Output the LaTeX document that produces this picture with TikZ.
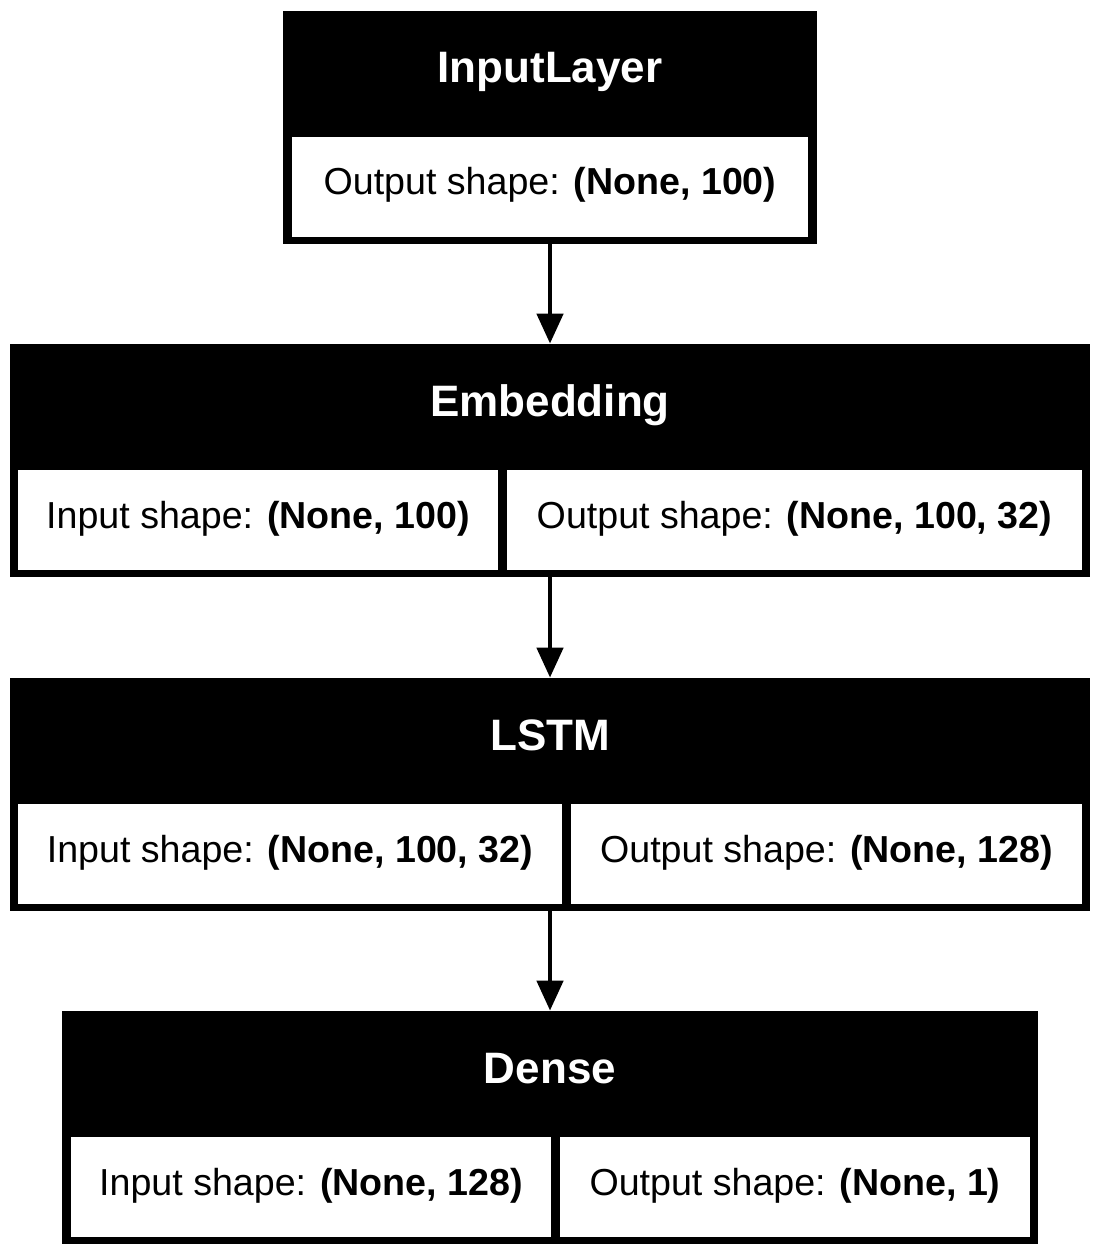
\documentclass[tikz,border=0pt]{standalone}
\usepackage{fontspec}
\setmainfont{Liberation Sans}
\usetikzlibrary{arrows.meta}
\tikzset{
  x=0.5pt, y=-0.5pt,
  layerbox/.style={rectangle, fill=black, inner sep=0pt, minimum height=116.5pt},
  cellbox/.style={rectangle, fill=white, inner sep=0pt, minimum height=50pt},
  titletxt/.style={anchor=base, text=white, inner sep=0pt, font=\fontsize{22pt}{26pt}\selectfont\bfseries},
  celltxt/.style={anchor=base, text=black, inner sep=0pt, font=\fontsize{18.8pt}{22pt}\selectfont},
  flow/.style={line width=2.35pt, -{Triangle[width=13pt,length=15pt]}}
}
\begin{document}
\begin{tikzpicture}
\useasboundingbox (0,0) rectangle (1100,1256);
\fill[white] (0,0) rectangle (1100,1256);
% InputLayer
\node[layerbox, minimum width=267pt] (inp) at (550,127.5) {};
\node[cellbox, minimum width=258pt] (inpc) at (550,187) {};
\node[titletxt] (inpt) at (550,83) {InputLayer};
\node[celltxt] (inpo) at (550,195) {Output shape: \textbf{(None, 100)}};
% Embedding
\node[layerbox, minimum width=540pt] (emb) at (550,460.5) {};
\node[cellbox, minimum width=240pt] (embl) at (258,520) {};
\node[cellbox, minimum width=287.5pt] (embr) at (794.5,520) {};
\node[titletxt] (embt) at (550,416) {Embedding};
\node[celltxt] (embi) at (258,528) {Input shape: \textbf{(None, 100)}};
\node[celltxt] (embo) at (794.5,528) {Output shape: \textbf{(None, 100, 32)}};
% LSTM
\node[layerbox, minimum width=540pt] (lstm) at (550,794.5) {};
\node[cellbox, minimum width=272pt] (lstml) at (290,854) {};
\node[cellbox, minimum width=255.5pt] (lstmr) at (826.5,854) {};
\node[titletxt] (lstmt) at (550,750) {LSTM};
\node[celltxt] (lstmi) at (290,862) {Input shape: \textbf{(None, 100, 32)}};
\node[celltxt] (lstmo) at (826.5,862) {Output shape: \textbf{(None, 128)}};
% Dense
\node[layerbox, minimum width=488pt] (dense) at (550,1127.5) {};
\node[cellbox, minimum width=240pt] (densel) at (311,1187) {};
\node[cellbox, minimum width=235pt] (denser) at (795,1187) {};
\node[titletxt] (denset) at (550,1083) {Dense};
\node[celltxt] (densei) at (311,1195) {Input shape: \textbf{(None, 128)}};
\node[celltxt] (denseo) at (795,1195) {Output shape: \textbf{(None, 1)}};
% connectors
\draw[flow] (inp.south) -- (emb.north);
\draw[flow] (emb.south) -- (lstm.north);
\draw[flow] (lstm.south) -- (dense.north);
\end{tikzpicture}
\end{document}
